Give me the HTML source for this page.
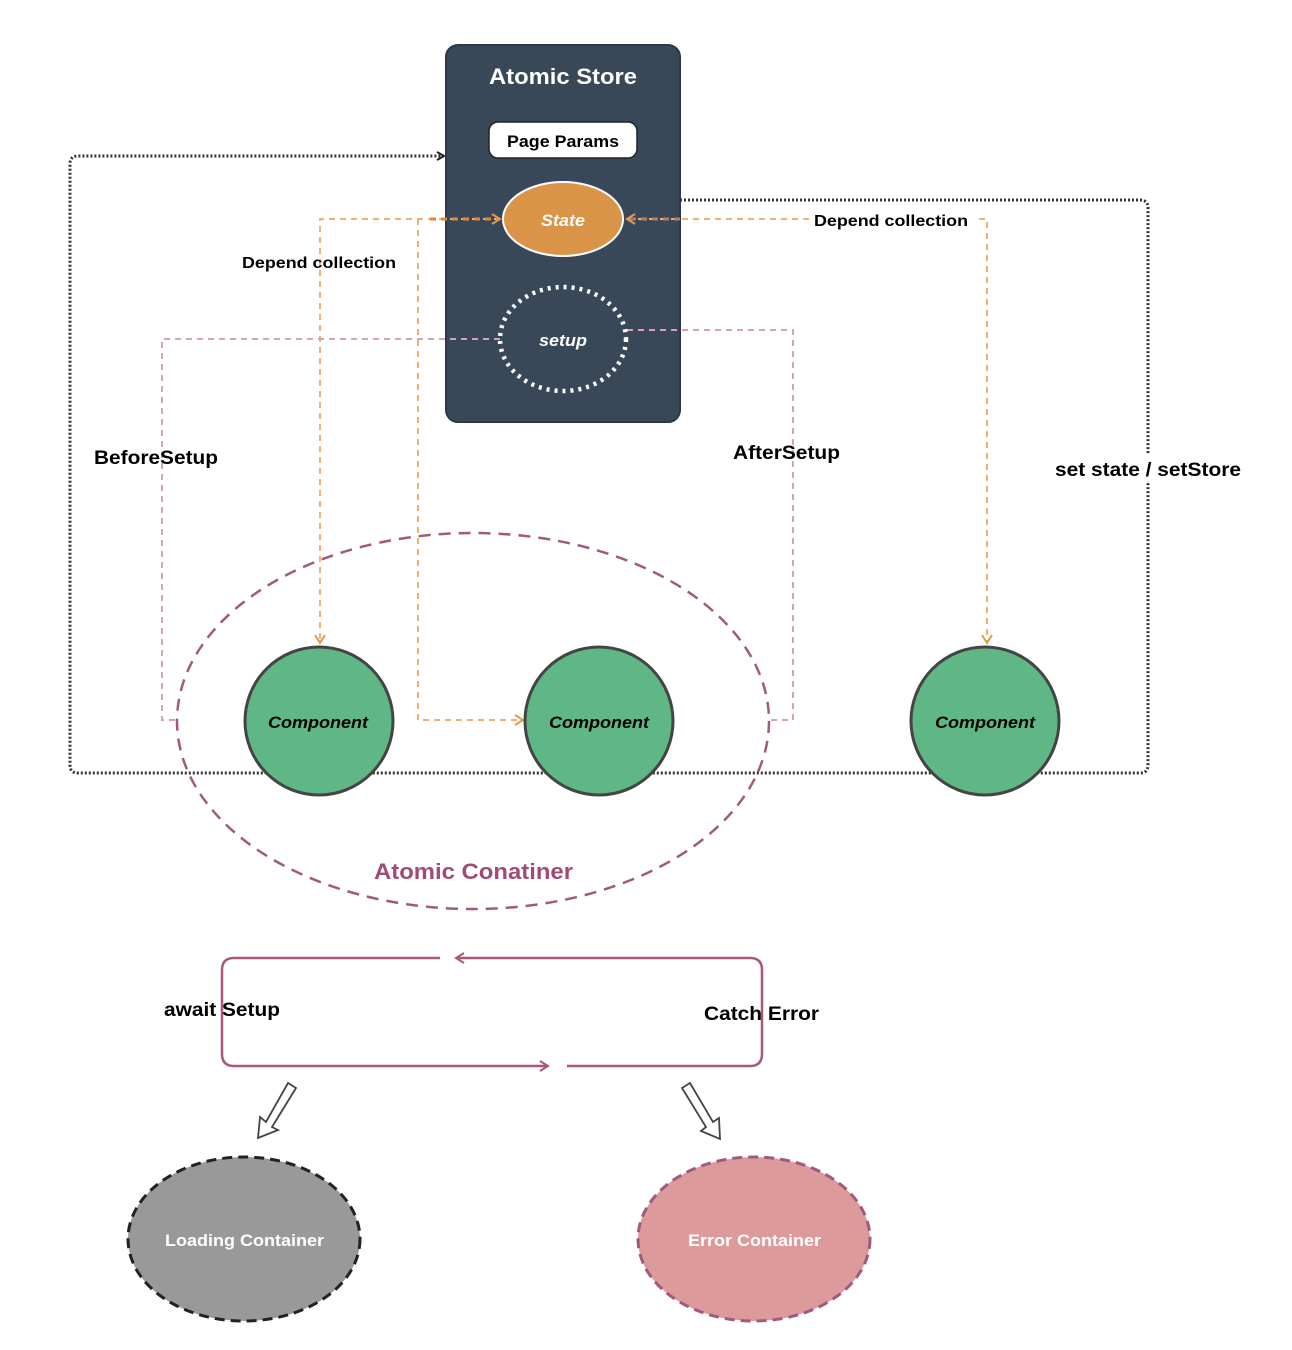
<!DOCTYPE html>
<html><head><meta charset="utf-8"><style>
html,body{margin:0;padding:0;background:#fff;}
svg{display:block;font-family:"Liberation Sans",Arial,sans-serif;}
</style></head><body>
<svg width="1292" height="1350" viewBox="0 0 1292 1350" xmlns="http://www.w3.org/2000/svg">
<defs>
<marker id="ab" markerWidth="10" markerHeight="10" refX="8" refY="5" orient="auto" markerUnits="userSpaceOnUse"><path d="M1,1 L8,5 L1,9" fill="none" stroke="#222" stroke-width="2"/></marker>
<marker id="ao" markerWidth="12" markerHeight="12" refX="9" refY="6" orient="auto" markerUnits="userSpaceOnUse"><path d="M1,1 L9,6 L1,11" fill="none" stroke="#e09a50" stroke-width="2"/></marker>
<marker id="ap" markerWidth="12" markerHeight="12" refX="9" refY="6" orient="auto" markerUnits="userSpaceOnUse"><path d="M1,1 L9,6 L1,11" fill="none" stroke="#a8577f" stroke-width="2"/></marker>
</defs>

<path d="M680,200 L1140,200 Q1148,200 1148,208 L1148,765 Q1148,773 1140,773 L78,773 Q70,773 70,765 L70,164 Q70,156 78,156 L444,156" fill="none" stroke="#333" stroke-width="3" stroke-dasharray="2,2" marker-end="url(#ab)"/>

<rect x="446" y="45" width="234" height="377" rx="12" fill="#394858" stroke="#2c3846" stroke-width="2"/>
<text x="489" y="84" font-size="22" font-weight="bold" fill="#fff" textLength="148" lengthAdjust="spacingAndGlyphs">Atomic Store</text>
<rect x="489" y="122" width="148" height="36" rx="9" fill="#fff" stroke="#222" stroke-width="1.5"/>
<text x="507" y="147" font-size="17" font-weight="bold" fill="#000" textLength="112" lengthAdjust="spacingAndGlyphs">Page Params</text>

<g fill="none" stroke="#f0b070" stroke-width="2" stroke-dasharray="6,5">
<path d="M500,219 L320,219 L320,643" marker-end="url(#ao)"/>
<path d="M418,219 L418,720 L523,720" marker-end="url(#ao)"/>
<path d="M627,219 L987,219 L987,643" marker-end="url(#ao)"/>
<path d="M430,219 L500,219" marker-end="url(#ao)" stroke="#d98a40" stroke-width="3"/>
<path d="M680,219 L627,219" marker-end="url(#ao)" stroke="#b08060" stroke-width="3"/>
</g>

<ellipse cx="563" cy="219" rx="60" ry="37" fill="#d99447" stroke="#fff" stroke-width="2"/>
<text x="541" y="226" font-size="17" font-weight="bold" font-style="italic" fill="#fff" textLength="44" lengthAdjust="spacingAndGlyphs">State</text>

<g fill="none" stroke="#d8a0bf" stroke-width="2" stroke-dasharray="6,5">
<path d="M500,339 L162,339 L162,720 L178,720"/>
<path d="M627,330 L793,330 L793,720 L770,720"/>
</g>

<ellipse cx="563" cy="339" rx="63" ry="52" fill="#394858" stroke="#fff" stroke-width="4.5" stroke-dasharray="3,5"/>
<text x="539" y="346" font-size="17" font-weight="bold" font-style="italic" fill="#fff" textLength="48" lengthAdjust="spacingAndGlyphs">setup</text>

<g font-size="16" font-weight="bold" fill="#000">
<text x="242" y="268" textLength="154" lengthAdjust="spacingAndGlyphs">Depend collection</text>
<rect x="810" y="208" width="164" height="22" fill="#fff"/>
<text x="814" y="226" textLength="154" lengthAdjust="spacingAndGlyphs">Depend collection</text>
</g>
<g font-size="19" font-weight="bold" fill="#000">
<text x="94" y="464" textLength="124" lengthAdjust="spacingAndGlyphs">BeforeSetup</text>
<text x="733" y="459" textLength="107" lengthAdjust="spacingAndGlyphs">AfterSetup</text>
<rect x="1140" y="455" width="16" height="26" fill="#fff"/>
<text x="1055" y="476" textLength="186" lengthAdjust="spacingAndGlyphs">set state / setStore</text>
</g>

<ellipse cx="473" cy="721" rx="296" ry="188" fill="none" stroke="#a05a80" stroke-width="2.5" stroke-dasharray="12,8"/>

<g fill="#5fb785" stroke="#444" stroke-width="3">
<circle cx="319" cy="721" r="74"/>
<circle cx="599" cy="721" r="74"/>
<circle cx="985" cy="721" r="74"/>
</g>
<g font-size="17" font-weight="bold" font-style="italic" fill="#000">
<text x="268" y="728" textLength="100" lengthAdjust="spacingAndGlyphs">Component</text>
<text x="549" y="728" textLength="100" lengthAdjust="spacingAndGlyphs">Component</text>
<text x="935" y="728" textLength="100" lengthAdjust="spacingAndGlyphs">Component</text>
</g>
<text x="374" y="879" font-size="22" font-weight="bold" fill="#a04a78" textLength="199" lengthAdjust="spacingAndGlyphs">Atomic Conatiner</text>

<g fill="none" stroke="#a8577f" stroke-width="2.5">
<path d="M440,958 L234,958 Q222,958 222,970 L222,1054 Q222,1066 234,1066 L548,1066" marker-end="url(#ap)"/>
<path d="M567,1066 L750,1066 Q762,1066 762,1054 L762,970 Q762,958 750,958 L456,958" marker-end="url(#ap)"/>
</g>
<g font-size="19" font-weight="bold" fill="#000">
<text x="164" y="1016" textLength="116" lengthAdjust="spacingAndGlyphs">await Setup</text>
<text x="704" y="1020" textLength="115" lengthAdjust="spacingAndGlyphs">Catch Error</text>
</g>

<g fill="#fff" stroke="#444" stroke-width="1.8">
<path d="M288,1083 L296,1088 L272,1127 L278,1130 L258,1138 L260,1117 L266,1122 Z"/>
<path d="M682,1088 L690,1083 L713,1122 L719,1118 L720,1139 L701,1131 L706,1127 Z"/>
</g>

<ellipse cx="244" cy="1239" rx="116" ry="82" fill="#999" stroke="#222" stroke-width="3" stroke-dasharray="10,6"/>
<text x="165" y="1246" font-size="17" font-weight="bold" fill="#fff" textLength="159" lengthAdjust="spacingAndGlyphs">Loading Container</text>
<ellipse cx="754" cy="1239" rx="116" ry="82" fill="#dd9a9a" stroke="#a05a80" stroke-width="3" stroke-dasharray="10,6"/>
<text x="688" y="1246" font-size="17" font-weight="bold" fill="#fff" textLength="133" lengthAdjust="spacingAndGlyphs">Error Container</text>
</svg>
</body></html>
